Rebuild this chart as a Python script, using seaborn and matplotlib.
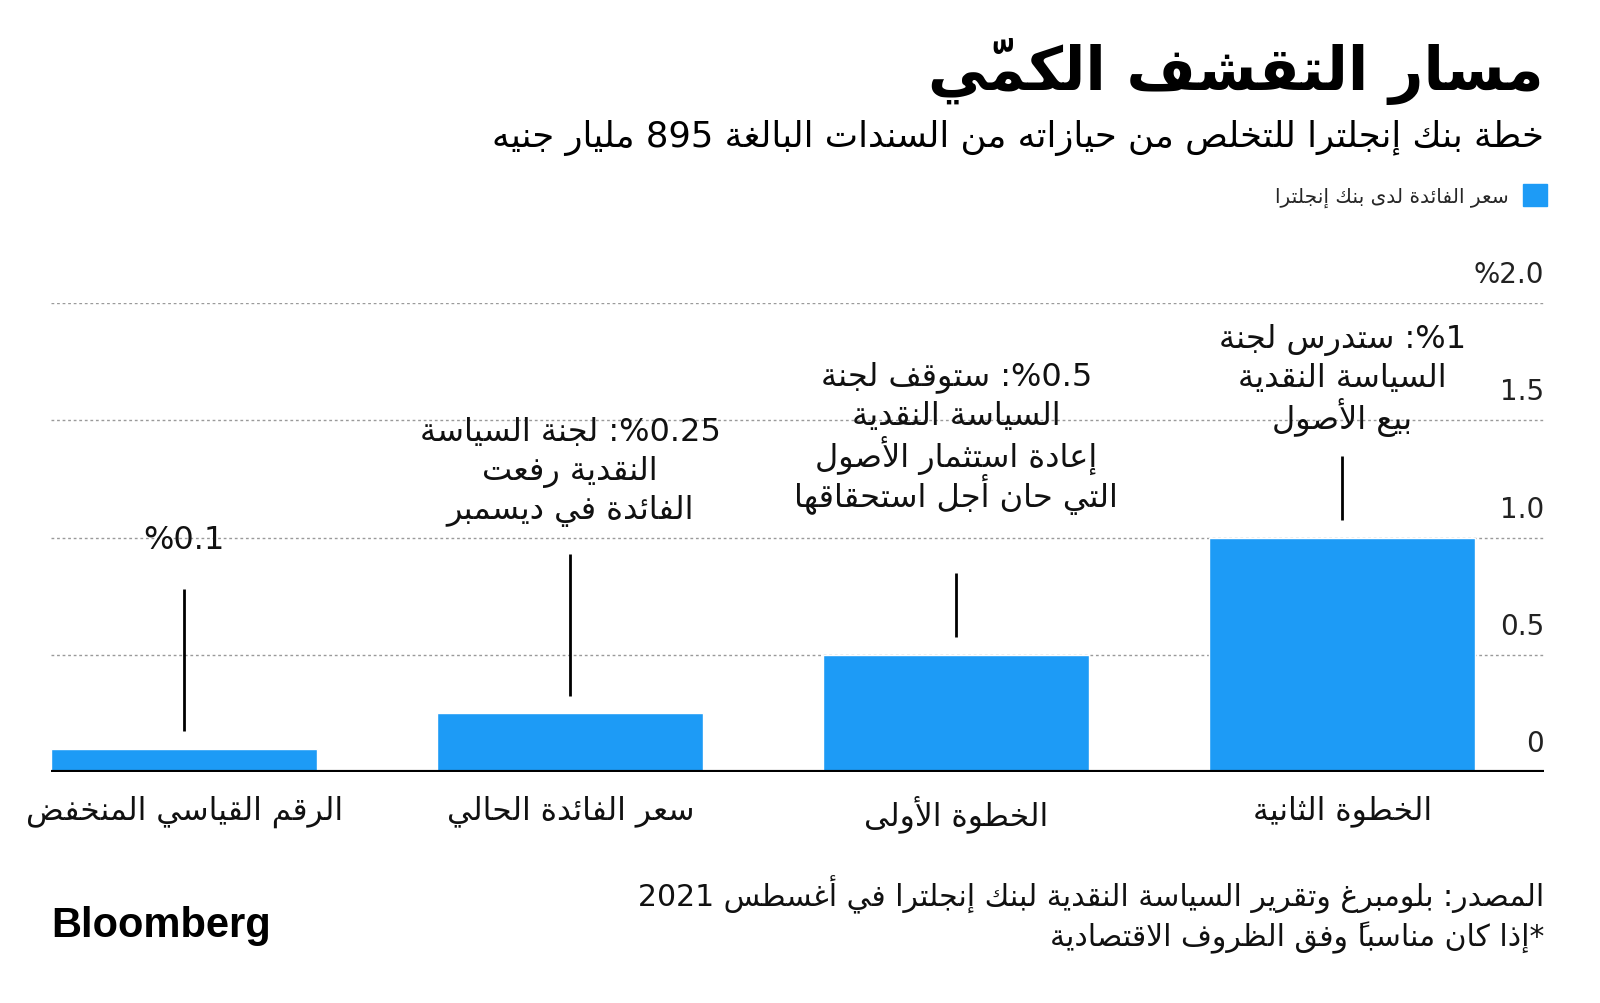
import re
import unicodedata
import seaborn as sns
import matplotlib.pyplot as plt
from matplotlib.patches import Patch
from matplotlib.transforms import ScaledTranslation

# Data (left to right as drawn in the chart)
categories = ['الرقم القياسي المنخفض', 'سعر الفائدة الحالي', 'الخطوة الأولى', 'الخطوة الثانية']
rates = [0.1, 0.25, 0.5, 1.0]
notes = [
    '0.1%',
    '0.25%: لجنة السياسة\nالنقدية رفعت\nالفائدة في ديسمبر',
    '0.5%: ستوقف لجنة\nالسياسة النقدية\nإعادة استثمار الأصول\nالتي حان أجل استحقاقها',
    '1%: ستدرس لجنة\nالسياسة النقدية\nبيع الأصول',
]
y_ticks = [0, 0.5, 1.0, 1.5, 2.0]
y_tick_labels = ['0', '0.5', '1.0', '1.5', '2.0%']

# annotation layout (centre of the note text, top of the stem)
note_y = [1.005, 1.30, 1.455, 1.70]
stem_top = [0.78, 0.93, 0.85, 1.35]

title = 'مسار التقشف الكمّي'
subtitle = 'خطة بنك إنجلترا للتخلص من حيازاته من السندات البالغة 895 مليار جنيه'
legend_label = 'سعر الفائدة لدى بنك إنجلترا'
source = 'المصدر: بلومبرغ وتقرير السياسة النقدية لبنك إنجلترا في أغسطس 2021\n*إذا كان مناسباً وفق الظروف الاقتصادية'

BLUE = '#1d9bf6'

# --- minimal Arabic shaping + right-to-left ordering (matplotlib has no text shaping) ---
FORMS = {
    'ء': (0xFE80, 1), 'آ': (0xFE81, 2), 'أ': (0xFE83, 2), 'ؤ': (0xFE85, 2),
    'إ': (0xFE87, 2), 'ئ': (0xFE89, 4), 'ا': (0xFE8D, 2), 'ب': (0xFE8F, 4),
    'ة': (0xFE93, 2), 'ت': (0xFE95, 4), 'ث': (0xFE99, 4), 'ج': (0xFE9D, 4),
    'ح': (0xFEA1, 4), 'خ': (0xFEA5, 4), 'د': (0xFEA9, 2), 'ذ': (0xFEAB, 2),
    'ر': (0xFEAD, 2), 'ز': (0xFEAF, 2), 'س': (0xFEB1, 4), 'ش': (0xFEB5, 4),
    'ص': (0xFEB9, 4), 'ض': (0xFEBD, 4), 'ط': (0xFEC1, 4), 'ظ': (0xFEC5, 4),
    'ع': (0xFEC9, 4), 'غ': (0xFECD, 4), 'ف': (0xFED1, 4), 'ق': (0xFED5, 4),
    'ك': (0xFED9, 4), 'ل': (0xFEDD, 4), 'م': (0xFEE1, 4), 'ن': (0xFEE5, 4),
    'ه': (0xFEE9, 4), 'و': (0xFEED, 2), 'ى': (0xFEEF, 2), 'ي': (0xFEF1, 4),
}
LAM_ALEF = {'آ': 0xFEF5, 'أ': 0xFEF7, 'إ': 0xFEF9, 'ا': 0xFEFB}


def shape(text):
    clusters = []
    for c in text:
        if unicodedata.category(c) == 'Mn' and clusters:
            clusters[-1][1] += c
        else:
            clusters.append([c, ''])
    merged = []
    i = 0
    while i < len(clusters):
        b, m = clusters[i]
        if b == 'ل' and i + 1 < len(clusters) and clusters[i + 1][0] in LAM_ALEF:
            merged.append(['LA' + clusters[i + 1][0], m + clusters[i + 1][1]])
            i += 2
        else:
            merged.append([b, m])
            i += 1

    def joins_next(b):
        return len(b) == 1 and b in FORMS and FORMS[b][1] == 4

    def joins_prev(b):
        return b.startswith('LA') or (b in FORMS and FORMS[b][1] >= 2)

    out = []
    for i, (b, m) in enumerate(merged):
        jp = i > 0 and joins_next(merged[i - 1][0]) and joins_prev(b)
        jn = i + 1 < len(merged) and joins_next(b) and joins_prev(merged[i + 1][0])
        if b.startswith('LA'):
            g = chr(LAM_ALEF[b[2]] + int(jp))
        elif b in FORMS:
            base, n = FORMS[b]
            if n == 1:
                g = chr(base)
            elif n == 2:
                g = chr(base + int(jp))
            else:
                g = chr(base + (3 if jp and jn else 1 if jp else 2 if jn else 0))
        else:
            g = b
        # the mark goes in front of its letter in visual order so it sits on it
        out.append(m + g)
    return out


def ar(text):
    lines = []
    for line in text.split('\n'):
        parts = re.split(r'(\d+(?:\.\d+)?)', line)
        vis = []
        for k, p in enumerate(parts):
            if k % 2:
                vis.append(p)
            else:
                vis.append(''.join(reversed(shape(p))))
        lines.append(''.join(reversed(vis)))
    return '\n'.join(lines)


sns.set_theme(style='white')
plt.rcParams['font.family'] = ['DejaVu Sans']

fig = plt.figure(figsize=(16, 10.04), dpi=100)
ax = fig.add_axes([0.032, 0.230, 0.933, 0.467])

sns.barplot(x=[ar(c) for c in categories], y=rates, color=BLUE, saturation=1,
            width=0.69, ax=ax, zorder=2)

ax.set_xlim(-0.345, 3.523)
ax.set_ylim(0, 2.0)
ax.set_xlabel('')
ax.set_ylabel('')

# dotted grid, black baseline
for v in y_ticks[1:]:
    ax.axhline(v, color='#9a9a9a', lw=1, ls=(0, (2, 2)), zorder=0)
ax.axhline(0, color='black', lw=3, zorder=3)
sns.despine(ax=ax, left=True, right=True, top=True, bottom=True)

# y tick labels on the right, sitting above their grid line
ax.yaxis.tick_right()
ax.set_yticks(y_ticks)
ax.set_yticklabels([ar(t) for t in y_tick_labels], fontsize=20, color='#222222')
ax.tick_params(axis='y', length=0, pad=0)
shift = ScaledTranslation(0, 23 / 72, fig.dpi_scale_trans)
for lab in ax.get_yticklabels():
    lab.set_horizontalalignment('right')
    lab.set_transform(lab.get_transform() + shift)

ax.tick_params(axis='x', length=0, pad=16, labelsize=22.5, labelcolor='#111111')

# notes and stems; each note line placed on a fixed step (points)
step = 28
for i, (r, note) in enumerate(zip(rates, notes)):
    ax.vlines(i, r + 0.075, stem_top[i], color='black', lw=2, zorder=3)
    lines = note.split('\n')
    n = len(lines)
    for j, line in enumerate(lines):
        ax.annotate(ar(line), xy=(i, note_y[i]), xytext=(0, ((n - 1) / 2 - j) * step),
                    textcoords='offset points', ha='center', va='center_baseline',
                    fontsize=23, color='#111111', zorder=4)

# titles
fig.text(0.965, 0.929, ar(title), ha='right', va='center', fontsize=43,
         fontweight='bold', color='black')
fig.text(0.965, 0.8625, ar(subtitle), ha='right', va='center', fontsize=25.5,
         color='black')
fig.legend(handles=[Patch(color=BLUE, label=ar(legend_label))], loc='center right',
           bbox_to_anchor=(0.967, 0.804), frameon=False, markerfirst=False,
           borderaxespad=0, borderpad=0, handlelength=1.2, handleheight=1.3,
           handletextpad=0.7, fontsize=14.5)

fig.text(0.965, 0.0886, ar(source), ha='right', va='center', fontsize=21.5,
         linespacing=1.3, color='#111111')
fig.text(0.032, 0.078, 'Bloomberg', ha='left', va='center', fontsize=30,
         fontweight='bold', family='Liberation Sans', color='black')

fig.savefig('out.png', dpi=100)
